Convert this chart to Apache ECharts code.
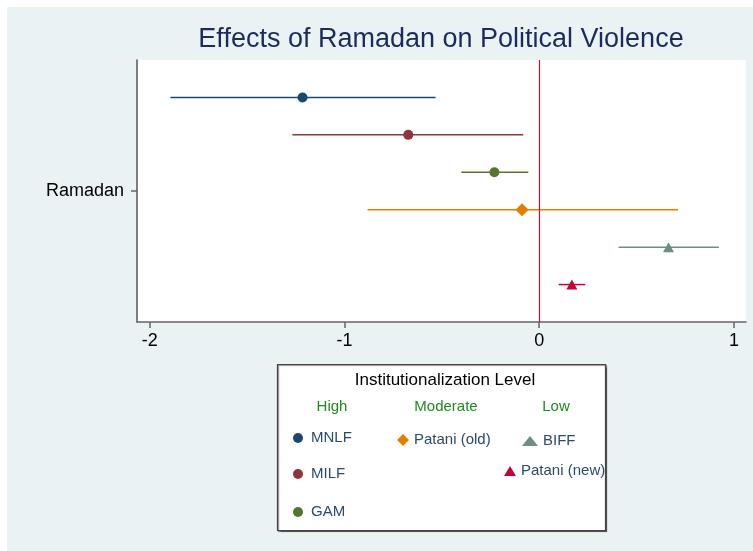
<!DOCTYPE html>
<html>
<head>
<meta charset="utf-8">
<script src="https://cdn.jsdelivr.net/npm/echarts@6/dist/echarts.min.js"></script>
<style>
  html, body { margin: 0; padding: 0; background: #fff; }
  #graph { width: 753px; height: 551px; }
</style>
</head>
<body>
<div id="graph"></div>
<script>
// point estimates and 95% intervals, one per group
var orgs = ['MNLF', 'MILF', 'GAM', 'Patani (old)', 'BIFF', 'Patani (new)'];
var estimates = [-1.215, -0.672, -0.23, -0.088, 0.664, 0.168];
var lowerCI = [-1.893, -1.267, -0.40, -0.881, 0.408, 0.10];
var upperCI = [-0.532, -0.082, -0.056, 0.713, 0.923, 0.237];
var xTicks = [-2, -1, 0, 1];
var rowLabel = 'Ramadan';

var colors = ['#1a476f', '#90353b', '#55752f', '#e37e00', '#6e8e84', '#c10534'];
var symbols = ['circle', 'circle', 'circle', 'diamond', 'triangle', 'triangle'];
var sizes = [10, 10, 10, 13, [11, 10], [11, 10]];
var font = 'Liberation Sans';

var series = [];
orgs.forEach(function(name, i) {
    var row = i - (orgs.length - 1) / 2;
    series.push({
        name: name,
        type: 'custom',
        z: 1,
        itemStyle: {color: colors[i]},
        data: [[lowerCI[i], upperCI[i], row]],
        encode: {x: [0, 1], y: 2},
        renderItem: function(params, api) {
            var a = api.coord([api.value(0), api.value(2)]);
            var b = api.coord([api.value(1), api.value(2)]);
            return {
                type: 'line',
                shape: {x1: a[0], y1: a[1], x2: b[0], y2: b[1]},
                style: {stroke: colors[i], lineWidth: 1.5}
            };
        }
    });
    series.push({
        name: name,
        type: 'scatter',
        z: 3,
        symbol: symbols[i],
        symbolSize: sizes[i],
        itemStyle: {color: colors[i], opacity: 1},
        data: [[estimates[i], row]]
    });
});
// zero reference line
series[1].markLine = {
    silent: true,
    symbol: 'none',
    label: {show: false},
    lineStyle: {color: '#c0103c', width: 1.2, type: 'solid', opacity: 1},
    data: [{xAxis: 0}]
};

function legendAt(i, w, h, left, top) {
    return {
        data: [{name: orgs[i], icon: symbols[i], itemStyle: {color: colors[i]}}],
        left: left, top: top,
        padding: 0,
        itemWidth: w, itemHeight: h,
        selectedMode: false,
        textStyle: {fontFamily: font, fontSize: 15, lineHeight: 16, color: '#2c4a6e'}
    };
}

var option = {
    animation: false,
    backgroundColor: '#fff',
    textStyle: {fontFamily: font},
    grid: {left: 137, right: 7, top: 60, bottom: 229, show: true, backgroundColor: '#fff', borderWidth: 0},
    xAxis: {
        type: 'value',
        min: -2.065, max: 1.062,
        axisLine: {show: true, onZero: false, lineStyle: {color: '#666', width: 1.5}},
        axisTick: {show: true, customValues: xTicks, length: 6, lineStyle: {color: '#666', width: 1.5}},
        axisLabel: {customValues: xTicks, fontSize: 18, color: '#000', margin: 10, fontFamily: font},
        splitLine: {show: false}
    },
    yAxis: {
        type: 'value',
        inverse: true,
        min: -3.5, max: 3.5,
        axisLine: {show: true, onZero: false, lineStyle: {color: '#555', width: 1.5}},
        axisTick: {show: true, customValues: [0], length: 6, lineStyle: {color: '#666', width: 1.5}},
        axisLabel: {customValues: [0], formatter: function() { return rowLabel; }, fontSize: 18, color: '#000', margin: 13, fontFamily: font},
        splitLine: {show: false}
    },
    legend: [
        legendAt(0, 16, 10, 293, 430),
        legendAt(1, 16, 10, 293, 466),
        legendAt(2, 16, 10, 293, 504),
        legendAt(3, 12, 12, 397, 432),
        legendAt(4, 16, 10, 522, 433),
        legendAt(5, 12, 10, 504, 463)
    ],
    graphic: [
        {type: 'rect', z: -10, silent: true, shape: {x: 7, y: 7, width: 746, height: 544}, style: {fill: '#eaf2f3'}},
        {type: 'text', x: 441, y: 40, style: {text: 'Effects of Ramadan on Political Violence', fontFamily: font, fontSize: 27, fill: '#1c2b5c', align: 'center', verticalAlign: 'middle'}},
        {type: 'rect', z: -5, silent: true, shape: {x: 277.5, y: 364.5, width: 328, height: 166},
            style: {fill: '#fff', stroke: '#444', lineWidth: 1.2, shadowColor: 'rgba(0,0,0,0.45)', shadowOffsetX: 1, shadowOffsetY: 1, shadowBlur: 1}},
        {type: 'text', x: 445, y: 380, style: {text: 'Institutionalization Level', fontFamily: font, fontSize: 17, fill: '#000', align: 'center', verticalAlign: 'middle'}},
        {type: 'text', x: 332, y: 407, style: {text: 'High', fontFamily: font, fontSize: 15, fill: '#1e8a1e', align: 'center', verticalAlign: 'middle'}},
        {type: 'text', x: 446, y: 407, style: {text: 'Moderate', fontFamily: font, fontSize: 15, fill: '#1e8a1e', align: 'center', verticalAlign: 'middle'}},
        {type: 'text', x: 556, y: 407, style: {text: 'Low', fontFamily: font, fontSize: 15, fill: '#1e8a1e', align: 'center', verticalAlign: 'middle'}}
    ],
    series: series
};

var chart = echarts.init(document.getElementById('graph'));
chart.setOption(option);
</script>
</body>
</html>
